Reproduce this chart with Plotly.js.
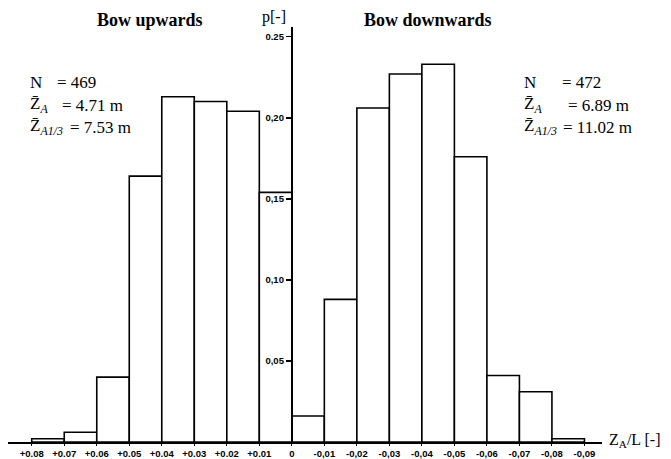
<!DOCTYPE html>
<html>
<head>
<meta charset="utf-8">
<script src="https://cdn.plot.ly/plotly-3.0.1.min.js"></script>
<style>html,body{margin:0;padding:0;background:#fff;}#chart{width:671px;height:459px;}</style>
</head>
<body>
<div id="chart"></div>
<script>
// Bin upper bounds (Z_A/L) and relative frequencies
const upBinFrom   = [0.08, 0.07, 0.06, 0.05, 0.04, 0.03, 0.02, 0.01];
const upValues    = [0.002, 0.006, 0.040, 0.164, 0.213, 0.210, 0.204, 0.154];
const downBinFrom = [0.00, -0.01, -0.02, -0.03, -0.04, -0.05, -0.06, -0.07, -0.08];
const downValues  = [0.016, 0.088, 0.206, 0.227, 0.233, 0.176, 0.041, 0.031, 0.002];
const binWidth = 0.01;

const xTickVals = [0.08,0.07,0.06,0.05,0.04,0.03,0.02,0.01,0,-0.01,-0.02,-0.03,-0.04,-0.05,-0.06,-0.07,-0.08,-0.09];
const xTickText = ['+0.08','+0.07','+0.06','+0.05','+0.04','+0.03','+0.02','+0.01','0','-0,01','-0,02','-0,03','-0,04','-0,05','-0,06','-0,07','-0,08','-0,09'];
const yTickVals = [0.05, 0.10, 0.15, 0.20, 0.25];
const yTickText = ['0,05', '0,10', '0,15', '0,20', '0.25'];

const statsUp   = {N: '469', ZA: '4.71 m', ZA13: '7.53 m'};
const statsDown = {N: '472', ZA: '6.89 m', ZA13: '11.02 m'};

const xRange = [0.0873, -0.0954];
const yRange = [0, 0.256];
const W = 671, H = 459, mL = 8, mR = 69, mT = 27, mB = 17;
const pw = W - mL - mR, ph = H - mT - mB;
const px = v => (v - mL) / pw;
const py = v => (H - mB - v) / ph;

const barStyle = {color: '#ffffff', line: {color: '#000000', width: 1.6}};
const traces = [
  {type: 'bar', x: upBinFrom.map(b => b - binWidth / 2), y: upValues, width: binWidth, marker: barStyle, hoverinfo: 'none'},
  {type: 'bar', x: downBinFrom.map(b => b - binWidth / 2), y: downValues, width: binWidth, marker: barStyle, hoverinfo: 'none'}
];

const serif = 'Liberation Serif, Times New Roman, serif';
const tf = {family: serif, size: 17, color: '#000'};
const ann = (x, y, text, opts) => Object.assign({xref: 'paper', yref: 'paper', x: px(x), y: py(y), text: text, showarrow: false, xanchor: 'left', yanchor: 'middle', font: tf}, opts || {});
const sub = s => '<sub><i>' + s + '</i></sub>';
const Zbar = 'Z\u0304';

const annotations = [
  ann(150, 20, '<b>Bow upwards</b>', {xanchor: 'center', font: {family: serif, size: 18, color: '#000'}}),
  ann(428, 20, '<b>Bow downwards</b>', {xanchor: 'center', font: {family: serif, size: 18, color: '#000'}}),
  ann(288, 17, 'p[-]', {xanchor: 'right', font: {family: serif, size: 16, color: '#000'}}),
  ann(607, 440, 'Z' + '<sub>A</sub>' + '/L [-]', {font: {family: serif, size: 16, color: '#000'}}),
  // left stats
  ann(28, 82, 'N'),
  ann(55, 82, '= ' + statsUp.N),
  ann(28, 105, Zbar + sub('A')),
  ann(60, 105, '= ' + statsUp.ZA),
  ann(28, 127, Zbar + sub('A1/3')),
  ann(68, 127, '= ' + statsUp.ZA13),
  // right stats
  ann(522, 82, 'N'),
  ann(560, 82, '= ' + statsDown.N),
  ann(522, 105, Zbar + sub('A')),
  ann(566, 105, '= ' + statsDown.ZA),
  ann(522, 127, Zbar + sub('A1/3')),
  ann(561, 127, '= ' + statsDown.ZA13)
];

const tickFont = {family: 'Liberation Sans, Arial, sans-serif', size: 9.5, color: '#000', weight: 'bold'};
const layout = {
  width: W, height: H,
  margin: {l: mL, r: mR, t: mT, b: mB, pad: 0},
  paper_bgcolor: '#fff', plot_bgcolor: '#fff',
  showlegend: false,
  bargap: 0,
  xaxis: {
    range: xRange, showgrid: false, zeroline: false,
    showline: true, linecolor: '#000', linewidth: 2,
    tickmode: 'array', tickvals: xTickVals, ticktext: xTickText,
    ticks: 'outside', ticklen: 2, tickwidth: 1, tickcolor: '#000',
    tickfont: tickFont, automargin: false
  },
  yaxis: {
    range: yRange, showgrid: false, zeroline: false,
    anchor: 'free', position: (xRange[0] - 0) / (xRange[0] - xRange[1]),
    showline: true, linecolor: '#000', linewidth: 2,
    tickmode: 'array', tickvals: yTickVals, ticktext: yTickText,
    ticks: 'outside', ticklen: 5, tickwidth: 1.5, tickcolor: '#000',
    tickfont: tickFont, automargin: false
  },
  annotations: annotations
};

Plotly.newPlot('chart', traces, layout, {displayModeBar: false, staticPlot: true});
</script>
</body>
</html>
